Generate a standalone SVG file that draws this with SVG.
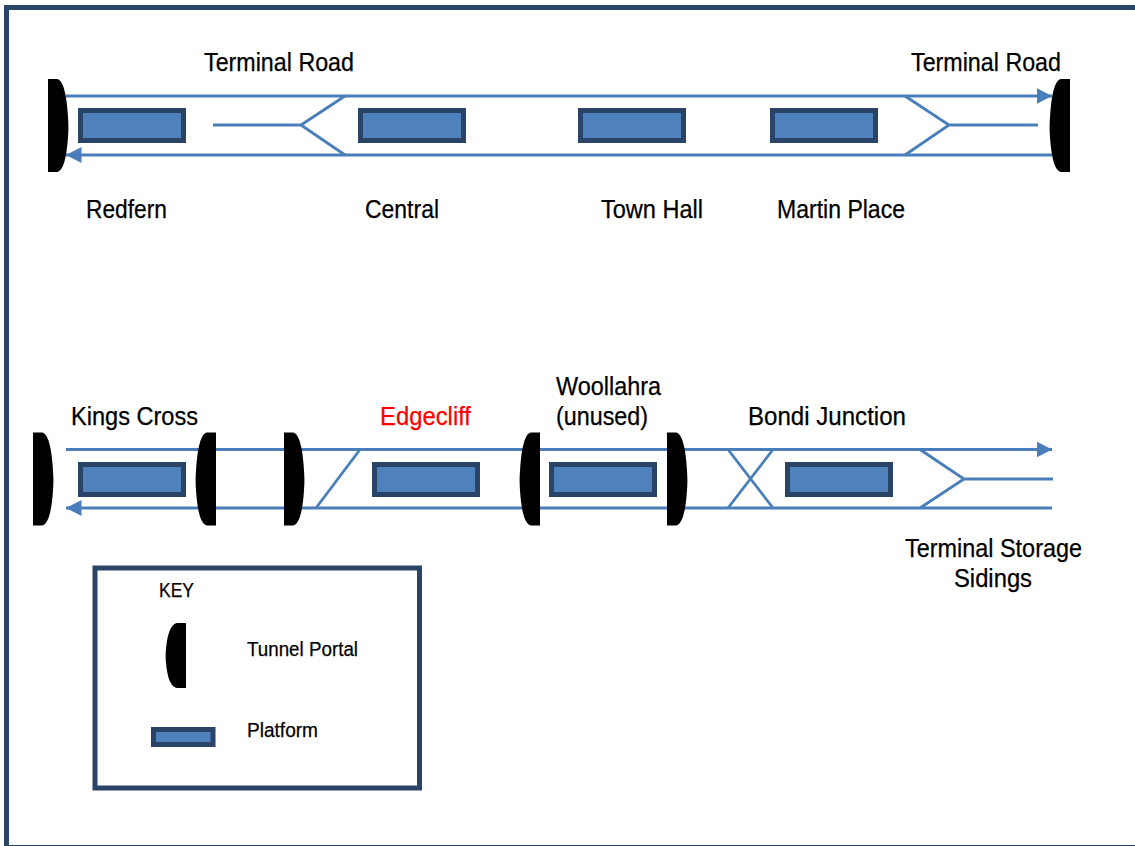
<svg xmlns="http://www.w3.org/2000/svg" width="1135" height="846" viewBox="0 0 1135 846">
<style>
.t{font-family:"Liberation Sans",Arial,sans-serif;font-size:25px;fill:#000;stroke:#000;stroke-width:.25px}
.s{font-size:20.5px}
.p{fill:#4f81bd;stroke:#2a4468;stroke-width:5}
.l{fill:none;stroke:#4a7ebb;stroke-width:2.8}
.f{fill:none;stroke:#2a4468;stroke-width:5}
</style>
<defs>
<marker id="arrow" markerUnits="userSpaceOnUse" markerWidth="17" markerHeight="17" refX="15.500" refY="8.500" orient="auto-start-reverse"><path d="M0 0.500L15.500 8.500L0 16.500Z" fill="#4a7ebb"/></marker>
<path id="pr" d="M0 0H9C15 1 18.500 14 20 38C20.500 46 20.500 50 20 58C18.500 80 15 92 9 93H0Z" fill="#000"/>
<path id="pl" d="M20 0H11C5 1 1.500 14 0 38C-.5 46 -.5 50 0 58C1.500 80 5 92 11 93H20Z" fill="#000"/>
</defs>
<rect id="frame" class="f" x="6.500" y="7.500" width="1140" height="840"/>
<g id="connectors">
<path class="l" d="M66 96H1052" marker-end="url(#arrow)"/>
<path class="l" d="M66 155H1052" marker-start="url(#arrow)"/>
<path class="l" d="M213 125H301L345 96M301 125L345 155"/>
<path class="l" d="M905 96L949 125L905 155M949 125H1038"/>
<path class="l" d="M66 449.500H1052" marker-end="url(#arrow)"/>
<path class="l" d="M66 508H1052" marker-start="url(#arrow)"/>
<path class="l" d="M316 508L360 449.500"/>
<path class="l" d="M728 449.500L773 508M773 449.500L728 508"/>
<path class="l" d="M920 449.500L964 479L920 508M964 479H1053"/>
</g>
<g id="portal-redfern"><use href="#pr" x="48" y="79"/></g>
<g id="portal-terminal-east"><use href="#pl" x="1050" y="79"/></g>
<g id="portal-kings-west"><use href="#pr" x="33" y="432.500"/></g>
<g id="portal-kings-east"><use href="#pl" x="196" y="432.500"/></g>
<g id="portal-edgecliff-west"><use href="#pr" x="284" y="432.500"/></g>
<g id="portal-edgecliff-east"><use href="#pl" x="520" y="432.500"/></g>
<g id="portal-woollahra-east"><use href="#pr" x="667" y="432.500"/></g>
<g id="redfern"><rect class="p" x="80.500" y="110.500" width="103" height="30"/><text class="t" x="86" y="218" textLength="81" lengthAdjust="spacingAndGlyphs">Redfern</text></g>
<g id="central"><rect class="p" x="360.500" y="110.500" width="103" height="30"/><text class="t" x="365" y="218" textLength="74" lengthAdjust="spacingAndGlyphs">Central</text></g>
<g id="town-hall"><rect class="p" x="580.500" y="110.500" width="103" height="30"/><text class="t" x="601" y="218" textLength="102" lengthAdjust="spacingAndGlyphs">Town Hall</text></g>
<g id="martin-place"><rect class="p" x="772.500" y="110.500" width="103" height="30"/><text class="t" x="777" y="218" textLength="128" lengthAdjust="spacingAndGlyphs">Martin Place</text></g>
<g id="kings-cross"><rect class="p" x="80.500" y="464.500" width="103" height="30"/><text class="t" x="71" y="425" textLength="127" lengthAdjust="spacingAndGlyphs">Kings Cross</text></g>
<g id="edgecliff"><rect class="p" x="374.500" y="464.500" width="103" height="30"/><text class="t" style="fill:#f00;stroke:#f00" x="380" y="425" textLength="91" lengthAdjust="spacingAndGlyphs">Edgecliff</text></g>
<g id="woollahra"><rect class="p" x="551.500" y="464.500" width="103" height="30"/><text class="t" x="556" y="395" textLength="105" lengthAdjust="spacingAndGlyphs">Woollahra</text><text class="t" x="556" y="425" textLength="92" lengthAdjust="spacingAndGlyphs">(unused)</text></g>
<g id="bondi-junction"><rect class="p" x="787.500" y="464.500" width="103" height="30"/><text class="t" x="748" y="425" textLength="158" lengthAdjust="spacingAndGlyphs">Bondi Junction</text></g>
<g id="terminal-road-west"><text class="t" x="204" y="71" textLength="150" lengthAdjust="spacingAndGlyphs">Terminal Road</text></g>
<g id="terminal-road-east"><text class="t" x="911" y="71" textLength="150" lengthAdjust="spacingAndGlyphs">Terminal Road</text></g>
<g id="sidings"><text class="t" x="905" y="557" textLength="177" lengthAdjust="spacingAndGlyphs">Terminal Storage</text><text class="t" x="954" y="587" textLength="78" lengthAdjust="spacingAndGlyphs">Sidings</text></g>
<g id="key">
<rect class="f" x="95" y="568" width="324.500" height="220"/>
<text class="t s" x="159" y="597" textLength="35" lengthAdjust="spacingAndGlyphs">KEY</text>
<path d="M186 623H177C171 624 167.500 633 166 649C165.500 654 165.500 658 166 663C167.500 679 171 687 177 688H186Z" fill="#000"/>
<text class="t s" x="247" y="656" textLength="111" lengthAdjust="spacingAndGlyphs">Tunnel Portal</text>
<rect class="p" x="153.500" y="729.500" width="59.500" height="15"/>
<text class="t s" x="247" y="737" textLength="71" lengthAdjust="spacingAndGlyphs">Platform</text>
</g>
</svg>
